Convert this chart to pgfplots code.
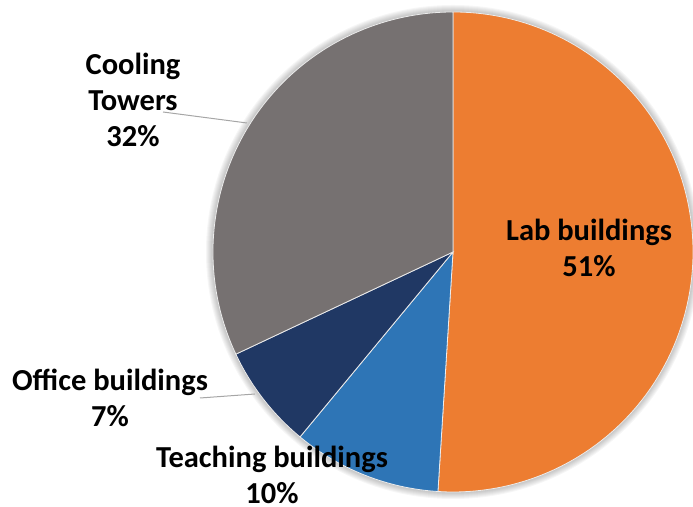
\documentclass[border=0pt]{standalone}
\usepackage{pgfplots}
\pgfplotsset{compat=1.18}
\usepackage{pgfplotstable}
\usepackage{fontspec}
\setmainfont{Carlito}
\definecolor{labc}{HTML}{ED7D31}
\definecolor{teachc}{HTML}{2E75B6}
\definecolor{officec}{HTML}{203864}
\definecolor{coolc}{HTML}{767171}
\definecolor{leadc}{HTML}{A6A6A6}
\pgfplotstableread{
label value
Lab 51
Teaching 10
Office 7
Cooling 32
}\piedata
\begin{document}
\begin{tikzpicture}[x=1bp,y=1bp]
\useasboundingbox (0,0) rectangle (693,507);
\pgfplotstablegetelem{0}{value}\of\piedata \let\va\pgfplotsretval
\pgfplotstablegetelem{1}{value}\of\piedata \let\vb\pgfplotsretval
\pgfplotstablegetelem{2}{value}\of\piedata \let\vc\pgfplotsretval
\pgfplotstablegetelem{3}{value}\of\piedata \let\vd\pgfplotsretval
\pgfmathsetmacro\aA{90}
\pgfmathsetmacro\aB{\aA-3.6*\va}
\pgfmathsetmacro\aC{\aB-3.6*\vb}
\pgfmathsetmacro\aD{\aC-3.6*\vc}
\pgfmathsetmacro\aE{\aD-3.6*\vd}
% soft shadow
\foreach \k in {1,...,7} {
  \fill[black, opacity=0.035] (453,255) circle[radius={240+\k}];
}
\begin{axis}[at={(453bp,255bp)}, anchor=center, scale only axis,
  width=480bp, height=480bp, xmin=-1, xmax=1, ymin=-1, ymax=1,
  hide axis, clip=false]
\fill[labc, draw=white!85!gray, line width=0.8bp] (axis cs:0,0) -- ({cos(\aA)},{sin(\aA)}) arc[start angle=\aA, end angle=\aB, radius=240bp] -- cycle;
\fill[teachc, draw=white!85!gray, line width=0.8bp] (axis cs:0,0) -- ({cos(\aB)},{sin(\aB)}) arc[start angle=\aB, end angle=\aC, radius=240bp] -- cycle;
\fill[officec, draw=white!85!gray, line width=0.8bp] (axis cs:0,0) -- ({cos(\aC)},{sin(\aC)}) arc[start angle=\aC, end angle=\aD, radius=240bp] -- cycle;
\fill[coolc, draw=white!85!gray, line width=0.8bp] (axis cs:0,0) -- ({cos(\aD)},{sin(\aD)}) arc[start angle=\aD, end angle=\aE, radius=240bp] -- cycle;
\end{axis}
% leader lines
\draw[leadc, line width=1bp] (163,395) -- (247,384);
\draw[leadc, line width=1bp] (200,109) -- (255,113);
% labels
\tikzset{lbl/.style={font=\fontsize{30.5bp}{36bp}\selectfont\bfseries, align=center, text=black, inner sep=0pt}}
\node[lbl] at (589,259.5) {Lab buildings\\51\%};
\node[lbl] at (133,407) {Cooling\\Towers\\32\%};
\node[lbl] at (110,109.5) {Office buildings\\7\%};
\node[lbl] at (272,32) {Teaching buildings\\10\%};
\end{tikzpicture}
\end{document}
